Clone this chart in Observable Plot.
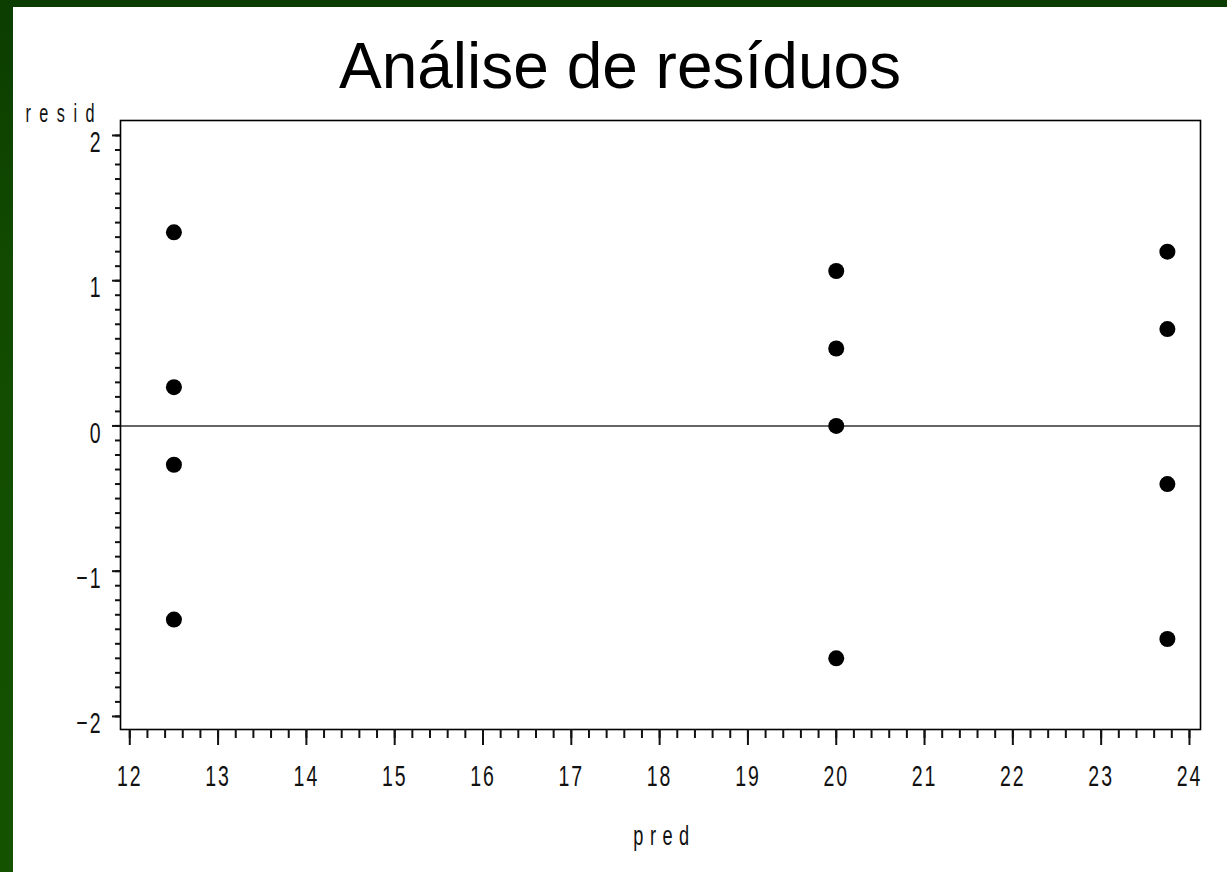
<!DOCTYPE html>
<html>
<head>
<meta charset="utf-8">
<script src="https://cdn.jsdelivr.net/npm/d3@7"></script>
<script src="https://cdn.jsdelivr.net/npm/@observablehq/plot@0.6"></script>
<style>
  html, body { margin: 0; padding: 0; background: #fff; }
  #page { position: relative; width: 1227px; height: 872px; background: #fff; overflow: hidden; }
  #bandTop { position: absolute; left: 0; top: 0; width: 1227px; height: 7px; background: #0b3d00; }
  #bandLeft { position: absolute; left: 0; top: 0; width: 13px; height: 872px;
    background: linear-gradient(180deg, #0b3d00 0%, #114a00 30%, #134f00 60%, #145200 100%); }
  #title { position: absolute; left: 13px; right: 0; top: 34px; text-align: center;
    font-family: "Liberation Sans", Arial, sans-serif; font-size: 64px; line-height: 64px; color: #000; z-index: 2; }
  #chart { position: absolute; left: 13px; top: 7px; }
</style>
</head>
<body>
<div id="page">
  <div id="bandTop"></div>
  <div id="bandLeft"></div>
  <div id="title">Análise de resíduos</div>
  <div id="chart"></div>
</div>
<script>
// Data
const pred  = [12.5, 12.5, 12.5, 12.5, 20, 20, 20, 20, 23.75, 23.75, 23.75, 23.75];
const resid = [1.333, 0.267, -0.267, -1.333, 1.067, 0.533, 0, -1.6, 1.2, 0.667, -0.4, -1.467];
const xTicks = [12, 13, 14, 15, 16, 17, 18, 19, 20, 21, 22, 23, 24];
const yTicks = [-2, -1, 0, 1, 2];
const xLabel = "pred";
const yLabel = "resid";

const points = pred.map((p, i) => ({pred: p, resid: resid[i]}));
const xMinor = d3.range(60, 121).map(d => d / 5);
const yMinor = d3.range(-20, 21).map(d => d / 10);
const fmt = d => (d < 0 ? "\u2212" + Math.abs(d) : String(d));

const chart = Plot.plot({
  width: 1214,
  height: 865,
  marginLeft: 107,
  marginRight: 27,
  marginTop: 113,
  marginBottom: 143,
  x: {domain: [11.895, 24.125]},
  y: {domain: [-2.09, 2.103]},
  style: {
    fontFamily: "'Liberation Sans', Arial, sans-serif",
    fontSize: "30px",
    letterSpacing: "3px",
    background: "transparent",
    color: "#111",
    overflow: "visible"
  },
  marks: [
    Plot.ruleY([0], {stroke: "#333", strokeWidth: 1.4}),
    Plot.frame({stroke: "#000", strokeWidth: 1.6}),
    Plot.axisX({ticks: xMinor, tickSize: 9, tickFormat: () => "", label: null, strokeWidth: 2}),
    Plot.axisX({ticks: xTicks, tickSize: 16, tickPadding: 19, tickFormat: fmt, label: null, strokeWidth: 2}),
    Plot.axisY({ticks: yMinor, tickSize: 5, tickFormat: () => "", label: null, strokeWidth: 2}),
    Plot.axisY({ticks: yTicks, tickSize: 8, tickFormat: () => "", label: null, strokeWidth: 2}),
    Plot.axisY({ticks: yTicks, tickSize: 0, tickPadding: 18, tickFormat: fmt, label: null, dy: 7}),
    Plot.dot(points, {x: "pred", y: "resid", r: 8, fill: "#000", stroke: "none"}),
    Plot.text([xLabel], {text: d => d, frameAnchor: "bottom", dx: 4, dy: 115, lineAnchor: "bottom", fontSize: 28, fill: "#111"}),
    Plot.text([yLabel], {text: d => d, frameAnchor: "top-left", dx: -95, dy: 1, textAnchor: "start", lineAnchor: "bottom", fontSize: 25, fill: "#111"})
  ]
});
document.getElementById("chart").appendChild(chart);

// condense every chart text horizontally (narrow stroke-font look), keeping its anchor fixed
chart.querySelectorAll("text").forEach(t => {
  if (!t.textContent) return;
  if (t.textContent === xLabel) t.setAttribute("letter-spacing", "10px");
  if (t.textContent === yLabel) t.setAttribute("letter-spacing", "13px");
  const ax = (parseFloat(t.getAttribute("x")) || 0) + (parseFloat(t.getAttribute("dx")) || 0);
  const prev = t.getAttribute("transform") || "";
  t.setAttribute("transform", `${prev} translate(${ax},0) scale(0.65,1) translate(${-ax},0)`.trim());
});
</script>
</body>
</html>
